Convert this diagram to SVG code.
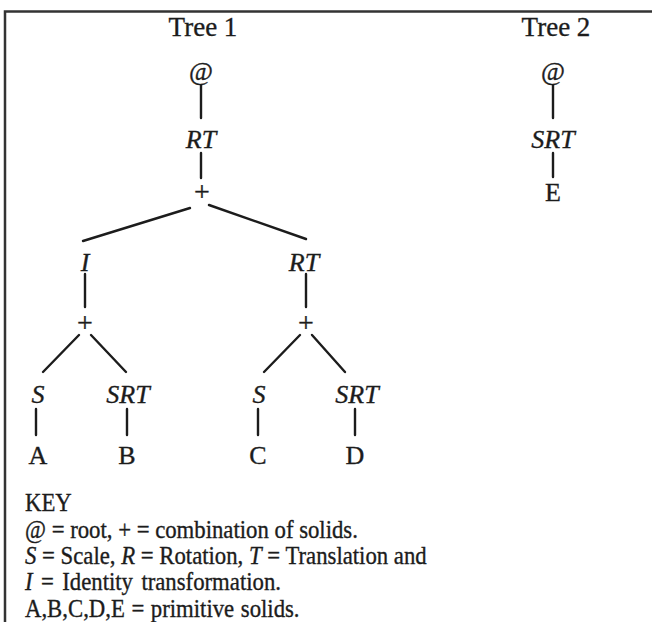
<svg xmlns="http://www.w3.org/2000/svg" width="652" height="622" viewBox="0 0 652 622">
  <style>
    .t { font-family: "Liberation Serif", "Times New Roman", serif; font-size: 26px; fill: #1c1c1c; stroke: #1c1c1c; stroke-width: 0.35; }
    .h { font-size: 27px; }
    .k { font-size: 25px; }
    .p { font-size: 28px; }
    .c { text-anchor: middle; }
    .i { font-style: italic; }
    .edge { stroke: #1c1c1c; stroke-width: 2.4; stroke-linecap: round; fill: none; }
    .frame { stroke: #333; stroke-width: 2.5; fill: none; }
  </style>
  <rect width="652" height="622" fill="#ffffff"/>

  <!-- frame: top and left rules -->
  <path class="frame" d="M652 11.5 H5 V622"/>

  <!-- connectors -->
  <g id="connectors">
    <!-- tree 1 -->
    <line class="edge" x1="201" y1="85" x2="201" y2="118"/>
    <line class="edge" x1="201" y1="153" x2="201" y2="178"/>
    <line class="edge" x1="190" y1="208" x2="83" y2="241"/>
    <line class="edge" x1="209" y1="205" x2="306" y2="239"/>
    <line class="edge" x1="85" y1="274" x2="85" y2="307"/>
    <line class="edge" x1="306" y1="274" x2="306" y2="307"/>
    <line class="edge" x1="79" y1="335" x2="43" y2="372"/>
    <line class="edge" x1="91" y1="335" x2="126" y2="372"/>
    <line class="edge" x1="300" y1="335" x2="264" y2="372"/>
    <line class="edge" x1="312" y1="335" x2="345" y2="372"/>
    <line class="edge" x1="36" y1="409" x2="36" y2="435"/>
    <line class="edge" x1="127" y1="409" x2="127" y2="435"/>
    <line class="edge" x1="258" y1="409" x2="258" y2="435"/>
    <line class="edge" x1="355" y1="409" x2="355" y2="435"/>
    <!-- tree 2 -->
    <line class="edge" x1="553" y1="85" x2="553" y2="118"/>
    <line class="edge" x1="553" y1="153" x2="553" y2="177"/>
  </g>

  <!-- headings -->
  <g id="title1"><text class="t h c" x="203" y="36">Tree 1</text></g>
  <g id="title2"><text class="t h c" x="556" y="36">Tree 2</text></g>

  <!-- tree 1 nodes -->
  <g id="t1-root"><text class="t c" x="201" y="80">@</text></g>
  <g id="t1-rt"><text class="t c i" x="201" y="148">RT</text></g>
  <g id="t1-plus"><text class="t p c" x="202" y="201">+</text></g>
  <g id="t1-i"><text class="t c i" x="85" y="271">I</text></g>
  <g id="t1-rt2"><text class="t c i" x="304" y="271">RT</text></g>
  <g id="t1-plus-l"><text class="t p c" x="85" y="332">+</text></g>
  <g id="t1-plus-r"><text class="t p c" x="306" y="332">+</text></g>
  <g id="t1-s1"><text class="t c i" x="38" y="403">S</text></g>
  <g id="t1-srt1"><text class="t c i" x="128" y="403">SRT</text></g>
  <g id="t1-s2"><text class="t c i" x="259" y="403">S</text></g>
  <g id="t1-srt2"><text class="t c i" x="357" y="403">SRT</text></g>
  <g id="t1-a"><text class="t c" x="38" y="464">A</text></g>
  <g id="t1-b"><text class="t c" x="127" y="464">B</text></g>
  <g id="t1-c"><text class="t c" x="258" y="464">C</text></g>
  <g id="t1-d"><text class="t c" x="355" y="464">D</text></g>

  <!-- tree 2 nodes -->
  <g id="t2-root"><text class="t c" x="553" y="80">@</text></g>
  <g id="t2-srt"><text class="t c i" x="553" y="148">SRT</text></g>
  <g id="t2-e"><text class="t c" x="553" y="201">E</text></g>

  <!-- key: condensed roman setting -->
  <g id="key">
    <text class="t k" transform="translate(25 511) scale(0.91 1)">KEY</text>
    <text class="t k" transform="translate(25 538) scale(0.91 1)">@ = root, + = combination of solids.</text>
    <text class="t k" transform="translate(25 564) scale(0.91 1)"><tspan class="i">S</tspan> = Scale, <tspan class="i">R</tspan> = Rotation, <tspan class="i">T</tspan> = Translation and</text>
    <text class="t k" transform="translate(25 590) scale(0.91 1)" word-spacing="3"><tspan class="i">I</tspan> = Identity transformation.</text>
    <text class="t k" transform="translate(25 617) scale(0.91 1)" word-spacing="1">A,B,C,D,E = primitive solids.</text>
  </g>
</svg>
